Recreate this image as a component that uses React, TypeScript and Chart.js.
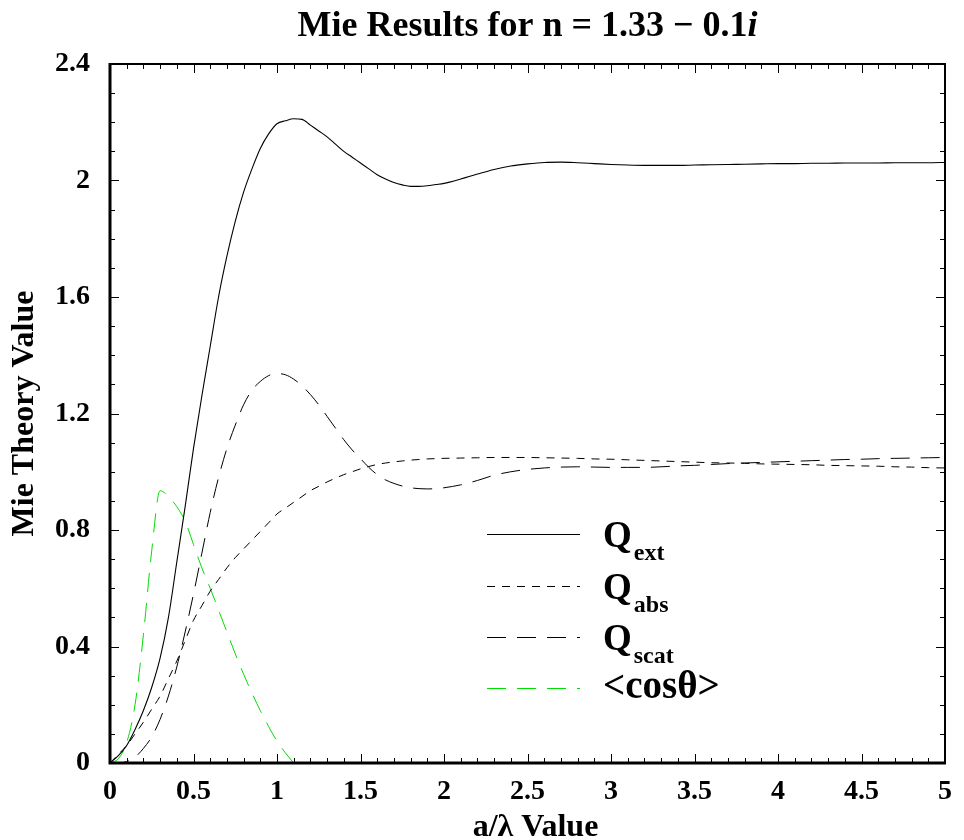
import React, { useEffect, useRef } from "react";
import { Chart, registerables } from "chart.js";

Chart.register(...registerables);

const FONT = '"Liberation Serif", "Times New Roman", Times, serif';

const xValues = [
  0, 0.05, 0.1, 0.15, 0.2, 0.25, 0.3, 0.35, 0.4, 0.45, 0.5, 0.55, 0.6, 0.65, 0.7, 0.75, 0.8, 0.85, 0.9, 0.95,
  1, 1.05, 1.1, 1.15, 1.2, 1.25, 1.3, 1.35, 1.4, 1.45, 1.5, 1.55, 1.6, 1.65, 1.7, 1.75, 1.8, 1.85, 1.9, 1.95,
  2, 2.1, 2.2, 2.3, 2.4, 2.5, 2.6, 2.7, 2.8, 2.9, 3, 3.1, 3.2, 3.3, 3.4, 3.5, 3.6, 3.7, 3.8, 3.9,
  4, 4.1, 4.2, 4.3, 4.4, 4.5, 4.6, 4.7, 4.8, 4.9, 5,
];

const qExt = [
  0, 0.025, 0.06, 0.115, 0.18, 0.26, 0.36, 0.5, 0.69, 0.88, 1.08, 1.26, 1.43, 1.6, 1.74, 1.86, 1.96, 2.04, 2.11, 2.16,
  2.195, 2.205, 2.212, 2.21, 2.19, 2.17, 2.15, 2.125, 2.1, 2.08, 2.06, 2.04, 2.02, 2.005, 1.993, 1.985, 1.98, 1.98, 1.982, 1.986,
  1.99, 2.005, 2.022, 2.038, 2.05, 2.057, 2.062, 2.063, 2.061, 2.058, 2.055, 2.053, 2.052, 2.052, 2.052, 2.053, 2.054, 2.055, 2.056, 2.057,
  2.058, 2.058, 2.059, 2.059, 2.06, 2.06, 2.06, 2.061, 2.061, 2.061, 2.062,
];

const qAbs = [
  0, 0.03, 0.06, 0.1, 0.14, 0.185, 0.23, 0.29, 0.35, 0.42, 0.49, 0.54, 0.59, 0.63, 0.67, 0.705, 0.735, 0.765, 0.795, 0.825,
  0.855, 0.875, 0.895, 0.915, 0.935, 0.95, 0.965, 0.978, 0.99, 1.0, 1.01, 1.018, 1.025, 1.03, 1.034, 1.037, 1.04, 1.042, 1.044, 1.045,
  1.046, 1.047, 1.048, 1.049, 1.049, 1.049, 1.048, 1.047, 1.046, 1.044, 1.043, 1.041, 1.039, 1.037, 1.035, 1.033, 1.031, 1.03, 1.029, 1.027,
  1.026, 1.025, 1.024, 1.022, 1.021, 1.02, 1.019, 1.017, 1.016, 1.014, 1.013,
];

const qScat = [
  0, 0, 0.005, 0.02, 0.05, 0.09, 0.15, 0.23, 0.33, 0.45, 0.58, 0.72, 0.86, 0.98, 1.08, 1.16, 1.23, 1.28, 1.31, 1.33,
  1.337, 1.333, 1.318, 1.295, 1.265, 1.23, 1.19, 1.15, 1.11, 1.075, 1.045, 1.015, 0.99, 0.972, 0.96, 0.951, 0.945, 0.942, 0.941, 0.942,
  0.945, 0.955, 0.97, 0.988, 1.0, 1.008, 1.013, 1.016, 1.017, 1.016, 1.015, 1.015, 1.015, 1.017, 1.02, 1.022, 1.025, 1.028, 1.03, 1.032,
  1.034, 1.036, 1.038, 1.04, 1.042, 1.043, 1.045, 1.046, 1.047, 1.048, 1.049,
];

// <cos θ> is drawn only up to a/λ = 1.1
const cosTheta = [
  0, 0.015, 0.07, 0.2, 0.44, 0.73, 0.935, 0.915, 0.88, 0.83, 0.75, 0.67, 0.6, 0.525, 0.45, 0.375, 0.305, 0.24, 0.18, 0.125,
  0.075, 0.035, 0.0,
];

const xTickValues = [0, 0.5, 1, 1.5, 2, 2.5, 3, 3.5, 4, 4.5, 5];
const yTickValues = [0, 0.4, 0.8, 1.2, 1.6, 2, 2.4];

const seriesNames = ["Q", "Q", "Q", "<cosθ>"];
const seriesSubs = ["ext", "abs", "scat", ""];

const toPoints = (ys: number[]) => ys.map((y, i) => ({ x: xValues[i], y }));

const STYLE = [
  { color: "#000000", dash: [] as number[], width: 1.1 },
  { color: "#000000", dash: [8, 7], width: 1 },
  { color: "#000000", dash: [19, 11], width: 1 },
  { color: "#00dd00", dash: [19, 11], width: 1 },
];

const decorPlugin = {
  id: "decor",
  afterDraw(chart: any) {
    const ctx: CanvasRenderingContext2D = chart.ctx;
    const { left, right, top, bottom } = chart.chartArea;
    const xs = chart.scales.x;
    const ys = chart.scales.y;
    ctx.save();
    ctx.strokeStyle = "#000";
    ctx.fillStyle = "#000";
    ctx.setLineDash([]);

    // minor/major ticks pointing inward on all four sides
    ctx.lineWidth = 1;
    for (let k = 0; k <= 50; k++) {
      const v = k / 10;
      const px = Math.round(xs.getPixelForValue(v)) + 0.5;
      const len = k % 5 === 0 ? 9 : 5;
      ctx.beginPath();
      ctx.moveTo(px, bottom);
      ctx.lineTo(px, bottom - len);
      ctx.moveTo(px, top);
      ctx.lineTo(px, top + len);
      ctx.stroke();
    }
    for (let k = 0; k <= 24; k++) {
      const v = k / 10;
      const py = Math.round(ys.getPixelForValue(v)) + 0.5;
      const len = k % 4 === 0 ? 9 : 5;
      ctx.beginPath();
      ctx.moveTo(left, py);
      ctx.lineTo(left + len, py);
      ctx.moveTo(right, py);
      ctx.lineTo(right - len, py);
      ctx.stroke();
    }

    // frame
    ctx.lineWidth = 2;
    ctx.beginPath();
    ctx.moveTo(left, top);
    ctx.lineTo(right, top);
    ctx.lineTo(right, bottom);
    ctx.stroke();
    ctx.lineWidth = 3;
    ctx.beginPath();
    ctx.moveTo(left, top - 1);
    ctx.lineTo(left, bottom);
    ctx.lineTo(right + 1, bottom);
    ctx.stroke();

    // title with italic i
    const titleMain = "Mie Results for n = 1.33 \u2212 0.1";
    const titleItal = "i";
    ctx.textBaseline = "alphabetic";
    ctx.textAlign = "left";
    ctx.font = `bold 36px ${FONT}`;
    const w1 = ctx.measureText(titleMain).width;
    ctx.font = `italic bold 36px ${FONT}`;
    const w2 = ctx.measureText(titleItal).width;
    const tx = (left + right) / 2 - (w1 + w2) / 2;
    ctx.font = `bold 36px ${FONT}`;
    ctx.fillText(titleMain, tx, 36);
    ctx.font = `italic bold 36px ${FONT}`;
    ctx.fillText(titleItal, tx + w1, 36);

    // axis titles
    ctx.font = `bold 32px ${FONT}`;
    ctx.textAlign = "center";
    ctx.fillText("a/\u03bb Value", (left + right) / 2 + 8, 836);
    ctx.save();
    ctx.translate(33, (top + bottom) / 2);
    ctx.rotate(-Math.PI / 2);
    ctx.fillText("Mie Theory Value", 0, 0);
    ctx.restore();

    // legend
    const rows = [534, 586, 637, 688];
    const lx0 = 487;
    const lx1 = 580;
    const tx0 = 603;
    for (let i = 0; i < 4; i++) {
      const st = STYLE[i];
      const yy = rows[i] + 0.5;
      ctx.strokeStyle = st.color;
      ctx.lineWidth = st.width;
      ctx.setLineDash(st.dash);
      ctx.beginPath();
      ctx.moveTo(lx0, yy);
      ctx.lineTo(lx1, yy);
      ctx.stroke();
      ctx.setLineDash([]);
      ctx.fillStyle = "#000";
      ctx.textAlign = "left";
      if (seriesSubs[i]) {
        ctx.font = `bold 37px ${FONT}`;
        ctx.fillText(seriesNames[i], tx0, rows[i] + 13);
        const wq = ctx.measureText(seriesNames[i]).width;
        ctx.font = `bold 24px ${FONT}`;
        ctx.fillText(seriesSubs[i], tx0 + wq + 2, rows[i] + 26);
      } else {
        ctx.font = `bold 39px ${FONT}`;
        ctx.fillText(seriesNames[i], tx0, rows[i] + 10);
      }
    }
    ctx.restore();
  },
};

export default function App() {
  const ref = useRef<HTMLCanvasElement | null>(null);
  useEffect(() => {
    if (!ref.current) return;
    const mk = (label: string, data: any[], i: number) => ({
      label,
      data,
      borderColor: STYLE[i].color,
      borderWidth: STYLE[i].width,
      borderDash: STYLE[i].dash,
      pointRadius: 0,
      fill: false,
      cubicInterpolationMode: "monotone" as const,
    });
    const chart = new Chart(ref.current, {
      type: "line",
      data: {
        datasets: [
          mk("Qext", toPoints(qExt), 0),
          mk("Qabs", toPoints(qAbs), 1),
          mk("Qscat", toPoints(qScat), 2),
          mk("<cosθ>", toPoints(cosTheta), 3),
        ],
      },
      options: {
        responsive: false,
        animation: false,
        devicePixelRatio: 1,
        layout: { padding: { left: 0, right: 12, top: 64, bottom: 0 } },
        plugins: {
          legend: { display: false },
          title: { display: false },
          tooltip: { enabled: false },
        },
        scales: {
          x: {
            type: "linear",
            min: 0,
            max: 5,
            grid: { display: false, drawTicks: false },
            border: { display: false },
            afterBuildTicks: (s: any) => {
              s.ticks = xTickValues.map((v) => ({ value: v }));
            },
            afterFit: (s: any) => {
              s.height = 77;
            },
            ticks: {
              color: "#000",
              padding: 12,
              maxRotation: 0,
              autoSkip: false,
              font: { family: FONT, size: 28, weight: "bold" },
              callback: (v: any) => String(Math.round(Number(v) * 10) / 10),
            },
          },
          y: {
            type: "linear",
            min: 0,
            max: 2.4,
            grid: { display: false, drawTicks: false },
            border: { display: false },
            afterBuildTicks: (s: any) => {
              s.ticks = yTickValues.map((v) => ({ value: v }));
            },
            afterFit: (s: any) => {
              s.width = 110;
            },
            ticks: {
              color: "#000",
              padding: 20,
              autoSkip: false,
              font: { family: FONT, size: 28, weight: "bold" },
              callback: (v: any) => String(Math.round(Number(v) * 10) / 10),
            },
          },
        },
      } as any,
      plugins: [decorPlugin],
    });
    return () => chart.destroy();
  }, []);
  return (
    <div style={{ position: "fixed", left: 0, top: 0, width: 964, height: 840, background: "#fff" }}>
      <canvas ref={ref} width={964} height={840} style={{ display: "block" }} />
    </div>
  );
}
